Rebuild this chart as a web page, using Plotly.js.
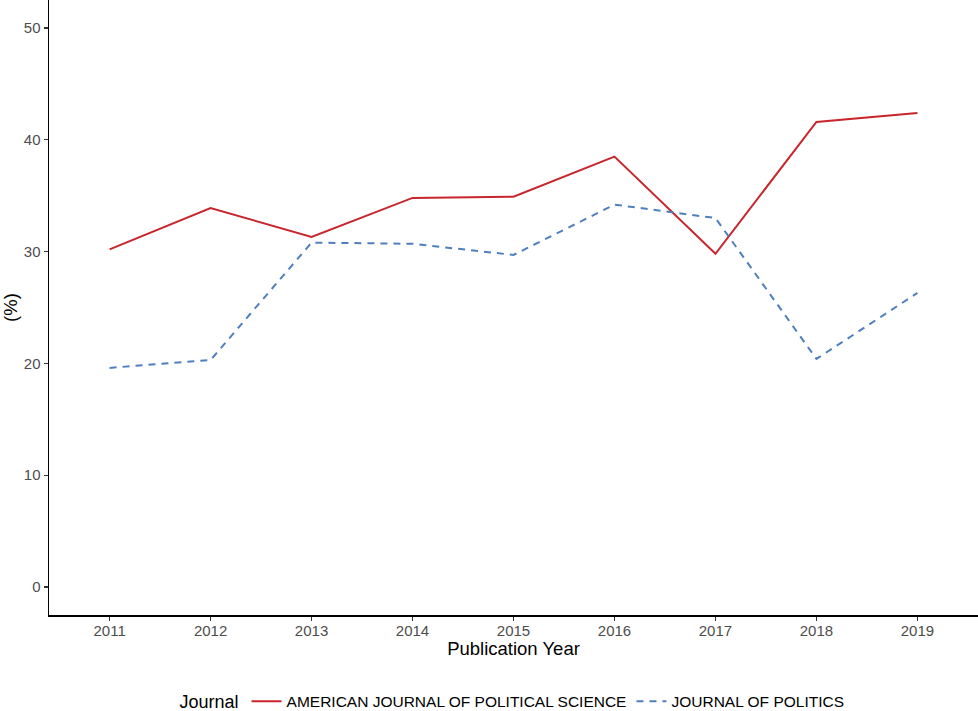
<!DOCTYPE html>
<html>
<head>
<meta charset="utf-8">
<script src="https://cdn.plot.ly/plotly-3.0.1.min.js"></script>
<style>html,body{margin:0;padding:0;background:#fff;}#chart{width:978px;height:711px;}</style>
</head>
<body>
<div id="chart"></div>
<script>
const years = [2011, 2012, 2013, 2014, 2015, 2016, 2017, 2018, 2019];
const ajps = [30.2, 33.9, 31.3, 34.8, 34.9, 38.5, 29.8, 41.6, 42.4];
const jop = [19.6, 20.3, 30.8, 30.7, 29.7, 34.2, 33.0, 20.4, 26.3];
const seriesNames = ["AMERICAN JOURNAL OF POLITICAL SCIENCE", "JOURNAL OF POLITICS"];

const font = "Liberation Sans, Arial, Helvetica, sans-serif";
const traces = [
  {x: years, y: ajps, name: seriesNames[0], type: "scatter", mode: "lines",
   line: {color: "#c8252c", width: 2}},
  {x: years, y: jop, name: seriesNames[1], type: "scatter", mode: "lines",
   line: {color: "#4f7fbf", width: 2, dash: "7px,6px"}}
];
const layout = {
  width: 978, height: 711,
  margin: {l: 49, r: 0, t: 0, b: 96, autoexpand: false},
  paper_bgcolor: "#fff", plot_bgcolor: "#fff",
  font: {family: font, color: "#000"},
  xaxis: {
    range: [2010.4, 2019.6], tickvals: years, ticktext: years.map(String),
    showline: true, linecolor: "#000", linewidth: 1.5, ticks: "outside", ticklen: 4,
    tickcolor: "#333", tickwidth: 1.2, showgrid: false, zeroline: false, automargin: false,
    ticklabelstandoff: -3,
    tickfont: {size: 15, color: "#4d4d4d", family: font},
    title: {text: "Publication Year", font: {size: 18.5, color: "#000", family: font}, standoff: 4}
  },
  yaxis: {
    range: [-2.5, 52.5], tickvals: [0, 10, 20, 30, 40, 50],
    showline: true, linecolor: "#000", linewidth: 1.5, ticks: "outside", ticklen: 4,
    tickcolor: "#333", tickwidth: 1.2, showgrid: false, zeroline: false, automargin: false,
    tickfont: {size: 15, color: "#4d4d4d", family: font},
    title: {text: "(%)", font: {size: 18.5, color: "#000", family: font}, standoff: 4}
  },
  showlegend: true,
  legend: {
    orientation: "h", x: 0.5, xanchor: "center", y: -0.141, yanchor: "middle",
    title: {text: "Journal", side: "left", font: {size: 18, color: "#000", family: font}},
    font: {size: 15.5, color: "#000", family: font},
    itemwidth: 30, traceorder: "normal"
  }
};
Plotly.newPlot("chart", traces, layout, {displayModeBar: false, staticPlot: true});
</script>
</body>
</html>
